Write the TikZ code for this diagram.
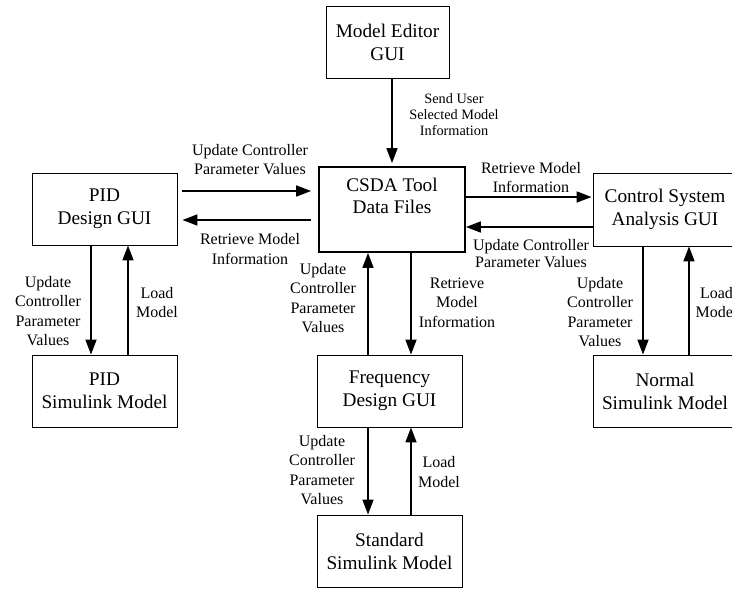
\documentclass[tikz,border=0pt]{standalone}
\usepackage{fontspec}
\setmainfont{Liberation Serif}
\usetikzlibrary{arrows.meta}
\begin{document}
\begin{tikzpicture}[x=1pt,y=-1pt,
 box/.style={draw, line width=0.9pt, inner sep=0pt, align=center, font=\fontsize{19.3}{23}\selectfont},
 boxtext/.style={inner sep=0pt, align=center, font=\fontsize{19.3}{22.5}\selectfont},
 lbl/.style={align=center, inner sep=0pt, font=\fontsize{16}{19.3}\selectfont},
 arr/.style={line width=1.7pt, -{Triangle[length=15pt,width=11pt]}}]
\useasboundingbox (0,0) rectangle (732,590);
\clip (0,0) rectangle (732,590);
% boxes
\node[box, minimum width=123pt, minimum height=72pt] (me) at (387.5,42) {Model Editor\\GUI};
\node[box, line width=1.8pt, minimum width=146pt, minimum height=85pt] (csda) at (392,209.5) {};
\node[boxtext] (csdat) at (392,196) {CSDA Tool\\Data Files};
\node[box, minimum width=145pt, minimum height=72pt] (pid) at (104.5,209) {PID\\Design GUI};
\node[box, minimum width=144pt, minimum height=73pt] (csa) at (665,209.5) {Control System\\Analysis GUI};
\node[box, minimum width=145pt, minimum height=72pt] (pidsim) at (104.5,391) {PID\\Simulink Model};
\node[box, minimum width=145pt, minimum height=72pt] (freq) at (389.5,391) {Frequency\\Design GUI};
\node[box, minimum width=145pt, minimum height=72pt] (std) at (389.5,551) {Standard\\Simulink Model};
\node[box, minimum width=144pt, minimum height=72pt] (normal) at (665,391) {Normal\\Simulink Model};
% helper coordinates
\coordinate (y191) at (0,191);
\coordinate (y220) at (0,220);
\coordinate (y197) at (0,197);
\coordinate (y227) at (0,227);
\coordinate (x368) at (368,0);
\coordinate (x411) at (411,0);
\coordinate (x91) at (91,0);
\coordinate (x128) at (128,0);
\coordinate (x643) at (643,0);
\coordinate (x689) at (689,0);
% arrows
\draw[arr, shorten >=3pt] (me.south -| csda.north) -- (csda.north);
\draw[arr, shorten <=5pt, shorten >=7pt] (pid.east |- y191) -- (csda.west |- y191);
\draw[arr, shorten <=7pt, shorten >=5pt] (csda.west |- y220) -- (pid.east |- y220);
\draw[arr, shorten >=1pt] (csda.east |- y197) -- (csa.west |- y197);
\draw[arr] (csa.west |- y227) -- (csda.east |- y227);
\draw[arr] (freq.north -| x368) -- (csda.south -| x368);
\draw[arr] (csda.south -| x411) -- (freq.north -| x411);
\draw[arr] (freq.south -| x368) -- (std.north -| x368);
\draw[arr] (std.north -| x411) -- (freq.south -| x411);
\draw[arr] (pid.south -| x91) -- (pidsim.north -| x91);
\draw[arr] (pidsim.north -| x128) -- (pid.south -| x128);
\draw[arr] (csa.south -| x643) -- (normal.north -| x643);
\draw[arr] (normal.north -| x689) -- (csa.south -| x689);
% labels
\node[lbl] (l1) at (250,159.5) {Update Controller\\Parameter Values};
\node[lbl] (l2) at (250,249) {Retrieve Model\\Information};
\node[lbl, font=\fontsize{14.3}{16}\selectfont] (l3) at (454,115) {Send User\\Selected Model\\Information};
\node[lbl, font=\fontsize{16}{18.4}\selectfont] (l4) at (531,177.5) {Retrieve Model\\Information};
\node[lbl, font=\fontsize{16}{17}\selectfont] (l5) at (531,253.5) {Update Controller\\Parameter Values};
\node[lbl] (l6) at (323,298) {Update\\Controller\\Parameter\\Values};
\node[lbl] (l7) at (457,302.5) {Retrieve\\Model\\Information};
\node[lbl] (l8) at (322,470) {Update\\Controller\\Parameter\\Values};
\node[lbl] (l9) at (439,472) {Load\\Model};
\node[lbl] (l10) at (48,311) {Update\\Controller\\Parameter\\Values};
\node[lbl] (l11) at (157,302.5) {Load\\Model};
\node[lbl] (l12) at (600,312) {Update\\Controller\\Parameter\\Values};
\node[lbl] (l13) at (716.5,302.5) {Load\\Model};
\end{tikzpicture}
\end{document}
